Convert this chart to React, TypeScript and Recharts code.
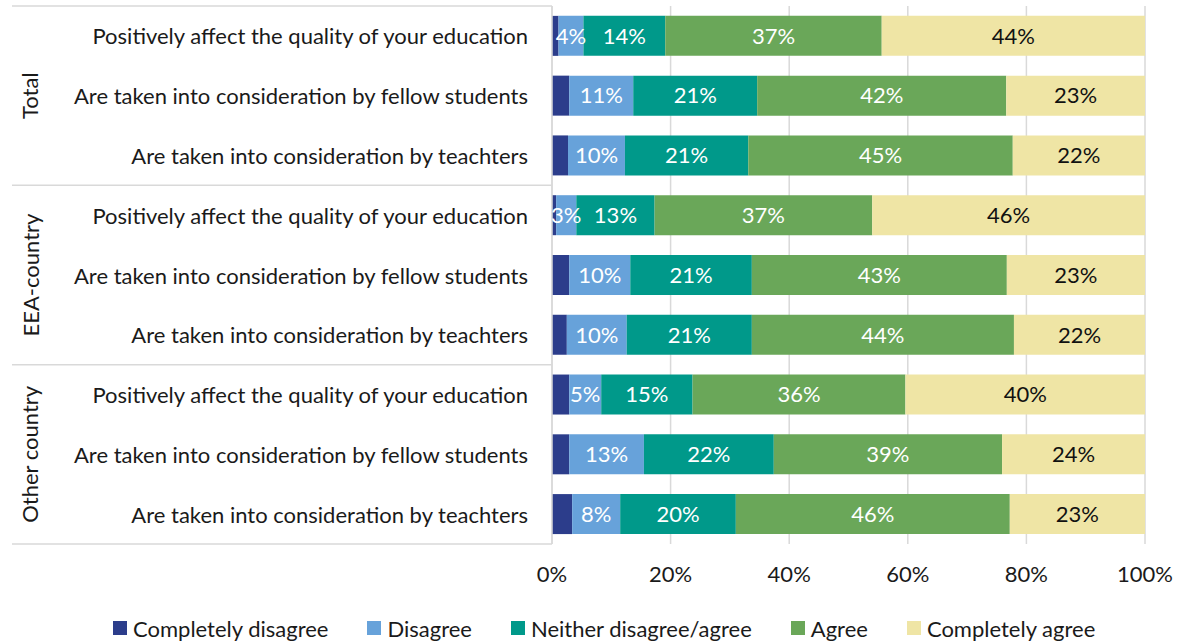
import React from "react";
import { BarChart, Bar, XAxis, YAxis, CartesianGrid, LabelList, Legend } from "recharts";

const groups = ["Total", "EEA-country", "Other country"];
const statements = [
  "Positively affect the quality of your education",
  "Are taken into consideration by fellow students",
  "Are taken into consideration by teachters",
];
const completelyDisagree = [1.1, 2.9, 2.7, 0.7, 2.9, 2.5, 2.9, 2.9, 3.4];
const disagree = [4.2, 10.8, 9.6, 3.4, 10.3, 10.1, 5.4, 12.6, 8.1];
const neither = [13.8, 20.9, 20.8, 13.2, 20.5, 21.1, 15.4, 21.9, 19.5];
const agree = [36.5, 42.0, 44.6, 36.7, 43.0, 44.2, 35.9, 38.5, 46.2];
const completelyAgree = [44.4, 23.4, 22.3, 46.0, 23.3, 22.1, 40.4, 24.1, 22.8];
const xTicks = [0, 20, 40, 60, 80, 100];

const seriesDefs = [
  { key: "cd", name: "Completely disagree", values: completelyDisagree, color: "#2c3d8b", label: null },
  { key: "d", name: "Disagree", values: disagree, color: "#67a2da", label: "#ffffff" },
  { key: "n", name: "Neither disagree/agree", values: neither, color: "#00998a", label: "#ffffff" },
  { key: "a", name: "Agree", values: agree, color: "#6aa759", label: "#ffffff" },
  { key: "ca", name: "Completely agree", values: completelyAgree, color: "#efe5a5", label: "#111111" },
];

const data = groups.flatMap((g, gi) =>
  statements.map((s, si) => {
    const i = gi * 3 + si;
    const row: any = { id: `${g}|${s}`, group: g, statement: s };
    seriesDefs.forEach((d) => (row[d.key] = d.values[i]));
    return row;
  })
);

const W = 1181;
const H = 641;
const M = { top: 6, right: 36, bottom: 3, left: 0 };
const LEGEND_H = 20;
const XAXIS_H = 74;
const PLOT_H = H - M.top - M.bottom - LEGEND_H - XAXIS_H;
const BAND = PLOT_H / data.length;
const FONT = "Lato, 'Open Sans', sans-serif";
const FS = 22;
const TXT = "#1a1a1a";
const GRID = "#d9d9d9";

const YTick = (props: any) => {
  const { x, y, payload } = props;
  const i = payload.index;
  const row = data[i];
  const axisX = x + 24;
  return (
    <g>
      <text x={x} y={y} textAnchor="end" dominantBaseline="central" fontFamily={FONT} fontSize={FS} fill={TXT}>
        {row.statement}
      </text>
      {i % 3 === 0 && <line x1={12} x2={axisX} y1={y - BAND / 2} y2={y - BAND / 2} stroke={GRID} strokeWidth={1.5} />}
      {i === data.length - 1 && (
        <line x1={12} x2={axisX} y1={y + BAND / 2} y2={y + BAND / 2} stroke={GRID} strokeWidth={1.5} />
      )}
      {i % 3 === 1 && (
        <text
          x={30}
          y={y}
          transform={`rotate(-90, 30, ${y})`}
          textAnchor="middle"
          dominantBaseline="central"
          fontFamily={FONT}
          fontSize={FS}
          fill={TXT}
        >
          {row.group}
        </text>
      )}
    </g>
  );
};

const LegendContent = () => (
  <div
    style={{
      width: W,
      height: LEGEND_H,
      display: "flex",
      alignItems: "center",
      paddingLeft: 113,
      boxSizing: "border-box",
      fontFamily: FONT,
      fontSize: FS,
      color: TXT,
    }}
  >
    {seriesDefs.map((d) => (
      <div key={d.key} style={{ display: "flex", alignItems: "center", marginRight: 39 }}>
        <div style={{ width: 14, height: 14, background: d.color, marginRight: 6 }} />
        <span style={{ whiteSpace: "nowrap" }}>{d.name}</span>
      </div>
    ))}
  </div>
);

export default function App() {
  return (
    <div style={{ position: "absolute", left: 0, top: 0, width: W, height: H, background: "#fff" }}>
      <BarChart width={W} height={H} data={data} layout="vertical" margin={M} barCategoryGap="16.5%">
        <CartesianGrid horizontal={false} vertical={true} stroke={GRID} strokeWidth={1.5} />
        <XAxis
          type="number"
          domain={[0, 100]}
          ticks={xTicks}
          tickFormatter={(v) => `${v}%`}
          axisLine={false}
          tickLine={false}
          height={XAXIS_H}
          tickMargin={16}
          tick={{ fontFamily: FONT, fontSize: FS, fill: TXT }}
          allowDataOverflow
        />
        <YAxis
          type="category"
          dataKey="id"
          width={552}
          axisLine={{ stroke: GRID, strokeWidth: 1.5 }}
          tickLine={false}
          tickSize={0}
          tickMargin={24}
          interval={0}
          tick={<YTick />}
        />
        <Legend verticalAlign="bottom" height={LEGEND_H} content={<LegendContent />} wrapperStyle={{ left: 0, width: W }} />
        {seriesDefs.map((d) => (
          <Bar key={d.key} dataKey={d.key} name={d.name} stackId="s" fill={d.color} isAnimationActive={false}>
            {d.label && (
              <LabelList
                dataKey={d.key}
                position="center"
                formatter={(v: any) => `${Math.round(Number(v))}%`}
                fill={d.label}
                fontFamily={FONT}
                fontSize={FS}
              />
            )}
          </Bar>
        ))}
      </BarChart>
    </div>
  );
}
